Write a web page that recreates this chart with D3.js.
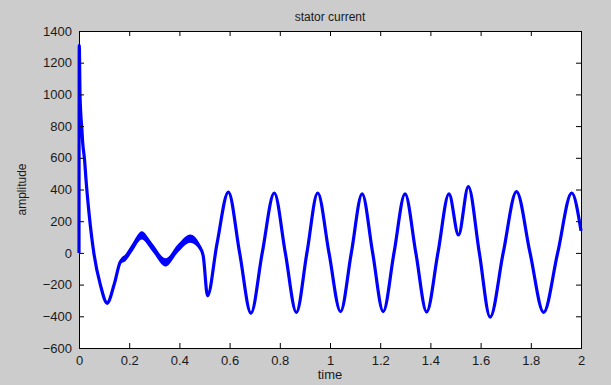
<!DOCTYPE html>
<html>
<head>
<meta charset="utf-8">
<script src="https://cdn.jsdelivr.net/npm/d3@7"></script>
<style>
	body { margin: 0; background: #cccccc; }
	svg { display: block; }
	.tick text { font-family: "Liberation Sans", Arial, sans-serif; font-size: 13px; fill: #1a1a1a; }
</style>
</head>
<body>
<div id="chart"></div>
<script>
// values
const time = [0, 0.001, 0.004, 0.007, 0.011, 0.015, 0.022, 0.028, 0.04, 0.06, 0.085, 0.112, 0.14, 0.165, 0.185, 0.215, 0.25, 0.29, 0.345, 0.395, 0.443, 0.48, 0.495, 0.512, 0.55, 0.595, 0.64, 0.685, 0.73, 0.778, 0.822, 0.866, 0.908, 0.951, 0.996, 1.042, 1.085, 1.128, 1.17, 1.212, 1.255, 1.299, 1.342, 1.385, 1.43, 1.474, 1.512, 1.551, 1.595, 1.638, 1.69, 1.743, 1.797, 1.851, 1.907, 1.963, 2.0];
const amplitude = [0, 1310, 1000, 880, 790, 690, 590, 460, 250, -10, -200, -316, -200, -55, -30, 40, 110, 40, -60, 30, 90, 40, -20, -270, 60, 384, 0, -380, 0, 378, 0, -375, 0, 378, 0, -370, 0, 372, 0, -370, 0, 372, 0, -372, 0, 372, 113, 418, 0, -405, 0, 386, 0, -375, 0, 378, 140];
// half width of the ripple band around the signal
const ripple = [0, 0, 55, 55, 45, 35, 25, 25, 8, 6, 6, 12, 12, 15, 22, 26, 26, 26, 26, 26, 26, 20, 12, 10, 6, 8, 5, 8, 5, 8, 5, 8, 5, 8, 5, 8, 5, 8, 5, 8, 5, 8, 5, 8, 5, 8, 7, 8, 5, 8, 5, 8, 5, 8, 5, 8, 8];

const xTicks = [0, 0.2, 0.4, 0.6, 0.8, 1, 1.2, 1.4, 1.6, 1.8, 2];
const yTicks = [-600, -400, -200, 0, 200, 400, 600, 800, 1000, 1200, 1400];

const width = 611;
const height = 385;
const margins = { top: 31, right: 30, bottom: 37, left: 79 };

const svg = d3
	.select("#chart")
	.append("svg")
	.attr("width", width)
	.attr("height", height);

svg.append("rect")
	.attr("width", width)
	.attr("height", height)
	.attr("fill", "#cccccc");

const x = d3.scaleLinear()
	.domain([0, 2])
	.range([margins.left, width - margins.right]);

const y = d3.scaleLinear()
	.domain([-600, 1400])
	.range([height - margins.bottom, margins.top]);

// plot background
svg.append("rect")
	.attr("x", x(0))
	.attr("y", y(1400))
	.attr("width", x(2) - x(0))
	.attr("height", y(-600) - y(1400))
	.attr("fill", "#ffffff");

const points = time.map((t, i) => ({ t: t, v: amplitude[i], r: ripple[i] }));

const plot = svg.append("g").attr("class", "signal");

// ripple band
plot.append("path")
	.datum(points)
	.attr("fill", "#0000ff")
	.attr("d", d3.area()
		.x(d => x(d.t))
		.y0(d => y(d.v - d.r))
		.y1(d => y(d.v + d.r))
		.curve(d3.curveMonotoneX));

plot.append("path")
	.datum(points)
	.attr("fill", "none")
	.attr("stroke", "#0000ff")
	.attr("stroke-width", 3.2)
	.attr("stroke-linejoin", "round")
	.attr("d", d3.line()
		.x(d => x(d.t))
		.y(d => y(d.v))
		.curve(d3.curveMonotoneX));

// axes, MATLAB style: ticks inside, box all round
const fmt = d => d3.format("")(d);
const axis = svg.append("g").attr("class", "axis-group");

axis.append("g")
	.attr("transform", `translate(0, ${y(-600)})`)
	.call(d3.axisBottom(x).tickValues(xTicks).tickFormat(fmt).tickSize(-5).tickPadding(8));

axis.append("g")
	.attr("transform", `translate(0, ${y(1400)})`)
	.call(d3.axisTop(x).tickValues(xTicks).tickFormat("").tickSize(-5));

axis.append("g")
	.attr("transform", `translate(${x(0)}, 0)`)
	.call(d3.axisLeft(y).tickValues(yTicks).tickFormat(fmt).tickSize(-5).tickPadding(7));

axis.append("g")
	.attr("transform", `translate(${x(2)}, 0)`)
	.call(d3.axisRight(y).tickValues(yTicks).tickFormat("").tickSize(-5));

axis.selectAll(".domain").attr("stroke", "#000");
axis.selectAll(".tick line").attr("stroke", "#000");

// labels
svg.append("text")
	.attr("x", (x(0) + x(2)) / 2)
	.attr("y", 21)
	.attr("text-anchor", "middle")
	.attr("font-family", "Liberation Sans, Arial, sans-serif")
	.attr("font-size", 12)
	.attr("fill", "#1a1a1a")
	.text("stator current");

svg.append("text")
	.attr("x", (x(0) + x(2)) / 2)
	.attr("y", 379)
	.attr("text-anchor", "middle")
	.attr("font-family", "Liberation Sans, Arial, sans-serif")
	.attr("font-size", 13)
	.attr("fill", "#1a1a1a")
	.text("time");

svg.append("text")
	.attr("transform", `translate(26, ${(y(-600) + y(1400)) / 2}) rotate(-90)`)
	.attr("text-anchor", "middle")
	.attr("font-family", "Liberation Sans, Arial, sans-serif")
	.attr("font-size", 12)
	.attr("fill", "#1a1a1a")
	.text("amplitude");
</script>
</body>
</html>
